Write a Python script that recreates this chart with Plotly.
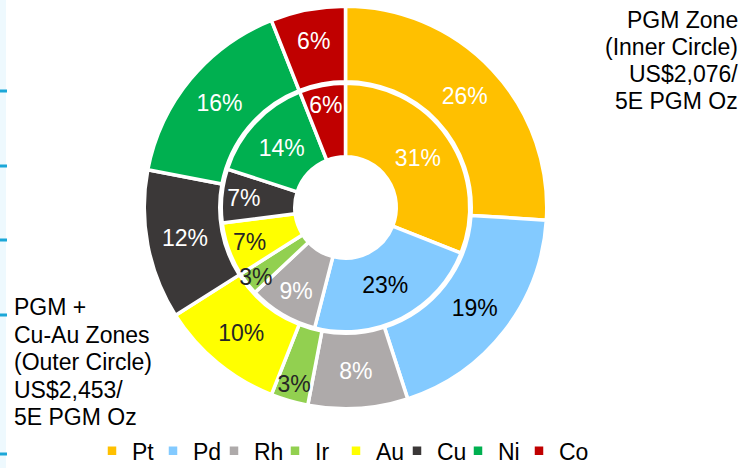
import plotly.graph_objects as go

metals = ["Pt", "Pd", "Rh", "Ir", "Au", "Cu", "Ni", "Co"]
colors = ["#FFC000", "#83CAFF", "#AEAAAA", "#92D050", "#FFFF00", "#3B3838", "#00B050", "#C00000"]
inner_values = [31, 23, 9, 3, 7, 7, 14, 6]   # PGM Zone (inner circle)
outer_values = [26, 19, 8, 3, 10, 12, 16, 6]  # PGM + Cu-Au Zones (outer circle)
inner_text_colors = ["white", "black", "white", "#262626", "#262626", "white", "white", "white"]
outer_text_colors = ["white", "black", "white", "#262626", "#262626", "white", "white", "white"]

right_note = ["PGM Zone", "(Inner Circle)", "US$2,076/", "5E PGM Oz"]
left_note = ["PGM +", "Cu-Au Zones", "(Outer Circle)", "US$2,453/", "5E PGM Oz"]

FONT = "Liberation Sans, Arial, sans-serif"
W, H = 751, 468
LW = 3.5

OUTER_DOM = dict(x=[0.19208, 0.72803], y=[0.12660, 0.98665])
INNER_DOM = dict(x=[0.29461, 0.62550], y=[0.29113, 0.82212])
OUTER_HOLE = 0.6248
INNER_HOLE = 0.4085

fig = go.Figure()
# coloured rings (no text)
fig.add_trace(go.Pie(
    labels=metals, values=outer_values, sort=False, direction="clockwise", rotation=0,
    hole=OUTER_HOLE, marker=dict(colors=colors, line=dict(color="white", width=LW)),
    textinfo="none", domain=OUTER_DOM, hoverinfo="label+value", showlegend=True,
))
fig.add_trace(go.Pie(
    labels=metals, values=inner_values, sort=False, direction="clockwise", rotation=0,
    hole=INNER_HOLE, marker=dict(colors=colors, line=dict(color="white", width=LW)),
    textinfo="none", domain=INNER_DOM, hoverinfo="label+value", showlegend=False,
))
# text-only overlays so labels are never covered by neighbouring slices
for vals, dom, hole, tcol in [(outer_values, OUTER_DOM, OUTER_HOLE, outer_text_colors),
                              (inner_values, INNER_DOM, INNER_HOLE, inner_text_colors)]:
    fig.add_trace(go.Pie(
        labels=metals, values=vals, sort=False, direction="clockwise", rotation=0,
        hole=hole, marker=dict(colors=["rgba(0,0,0,0)"] * len(metals), line=dict(width=0)),
        texttemplate="%{value}%", textposition="inside", insidetextorientation="horizontal",
        textfont=dict(family=FONT, size=23, color=tcol),
        domain=dom, hoverinfo="skip", showlegend=False,
    ))

annotations = []
for i, line in enumerate(right_note):
    annotations.append(dict(
        text=line, xref="paper", yref="paper", x=740 / W, y=1 - (20 + 27 * i) / H,
        xanchor="right", yanchor="middle", showarrow=False,
        font=dict(family=FONT, size=23, color="black"),
    ))
for i, line in enumerate(left_note):
    annotations.append(dict(
        text=line, xref="paper", yref="paper", x=12 / W, y=1 - (307 + 27.5 * i) / H,
        xanchor="left", yanchor="middle", showarrow=False,
        font=dict(family=FONT, size=23, color="black"),
    ))

shapes = [dict(type="rect", xref="paper", yref="paper", x0=0, x1=6 / W, y0=0, y1=1,
               fillcolor="#EEF9FE", line=dict(width=0), layer="below")]
for ty in [91, 166, 240, 315, 454]:
    shapes.append(dict(type="rect", xref="paper", yref="paper", x0=0, x1=7 / W,
                       y0=1 - (ty + 1.5) / H, y1=1 - (ty - 1.5) / H,
                       fillcolor="#1BA7D8", line=dict(width=0)))

fig.update_layout(
    width=W, height=H, margin=dict(l=0, r=0, t=0, b=0, autoexpand=False),
    paper_bgcolor="white", plot_bgcolor="white",
    font=dict(family=FONT, size=23, color="black"),
    uniformtext=dict(minsize=23, mode="show"),
    legend=dict(orientation="h", x=92 / W, xanchor="left", y=-5 / H, yanchor="bottom",
                font=dict(family=FONT, size=23, color="black"), bgcolor="rgba(0,0,0,0)",
                itemwidth=30, entrywidth=16, entrywidthmode="pixels",
                title=dict(text="\u00a0" * 480, side="top",
                           font=dict(size=4, color="rgba(0,0,0,0)"))),
    annotations=annotations, shapes=shapes,
)
fig.write_html("out.html")
